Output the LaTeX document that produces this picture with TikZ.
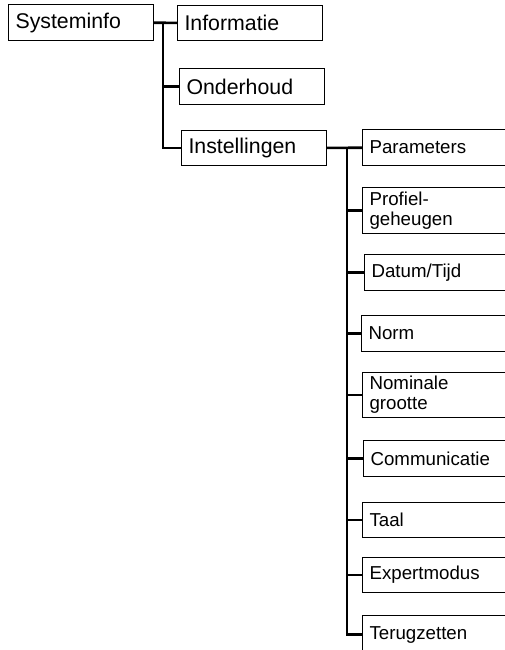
\documentclass[tikz,border=0pt]{standalone}
\usepackage{fontspec}
\setmainfont{Liberation Sans}
\usetikzlibrary{positioning,calc}

\begin{document}
\begin{tikzpicture}[x=1pt, y=-1pt]
	\useasboundingbox (0,0) rectangle (505,650);
	\clip (0,0) rectangle (505,650);
	\begin{scope}
		\tikzstyle{every node}=[draw, line width=1.1pt, anchor=north west, align=left, inner xsep=7pt, inner ysep=0pt]
		\tikzstyle{menu}=[font=\fontsize{21.3}{24}\selectfont, text width=131pt, minimum height=36pt]
		\tikzstyle{sub}=[font=\fontsize{18.7}{20}\selectfont, text width=146pt, minimum height=36pt]
		\tikzstyle{trunk}=[line width=2.6pt]

		% first level
		\node[menu] (sys) at (8, 4) {Systeminfo};
		\node[menu, minimum height=35pt] (info) at (177, 5) {Informatie};
		\node[menu] (onder) at (179, 68) {Onderhoud};
		\node[menu, minimum height=35pt] (inst) at (181, 130) {Instellingen};

		% settings menu
		\node[sub] (par) at (362, 129) {Parameters};
		\node[sub, minimum height=46pt] (prof) at (362, 187) {Profiel-\\geheugen};
		\node[sub] (dat) at (364, 254) {Datum/Tijd};
		\node[sub] (norm) at (361, 315) {Norm};
		\node[sub, minimum height=45pt] (nom) at (362, 372) {Nominale\\grootte};
		\node[sub] (comm) at (363, 440) {Communicatie};
		\node[sub, minimum height=35pt] (taal) at (362, 502) {Taal};
		\node[sub, minimum height=35pt] (exp) at (362, 557) {Expertmodus};
		\node[sub, minimum height=38pt] (terug) at (362, 615) {Terugzetten};

		\coordinate (t1) at (163, 22);
		\coordinate (t2) at (347, 147);

		\draw [trunk] (sys) to (info);
		\draw [trunk] (t1) |- (onder.west);
		\draw [trunk] (t1) |- (inst.west);

		\draw [trunk] (inst) to (par);
		\foreach \n in {prof, dat, norm, nom, comm, taal, exp, terug}
			\draw [trunk] (t2) |- (\n.west);
	\end{scope}
\end{tikzpicture}
\end{document}
